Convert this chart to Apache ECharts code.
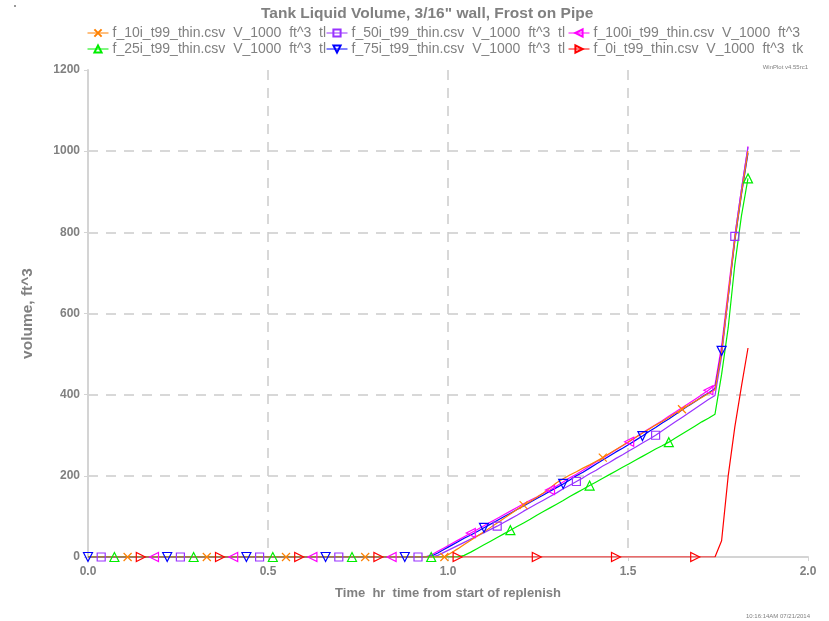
<!DOCTYPE html>
<html><head><meta charset="utf-8">
<script src="https://cdn.jsdelivr.net/npm/echarts@6/dist/echarts.min.js"></script>
<style>html,body{margin:0;padding:0;background:#fff}#c{width:829px;height:621px}</style>
</head><body><div id="c"></div>
<script>
// sampling step of the data files (hr); markers every 12 samples
const STEP = 0.22 / 12;
const xTicks = [0, 0.5, 1.0, 1.5, 2.0];
const yTicks = [0, 200, 400, 600, 800, 1000, 1200];

const names = {
  f10: 'f_10i_t99_thin.csv  V_1000  ft^3  tl',
  f25: 'f_25i_t99_thin.csv  V_1000  ft^3  tl',
  f50: 'f_50i_t99_thin.csv  V_1000  ft^3  tl',
  f75: 'f_75i_t99_thin.csv  V_1000  ft^3  tl',
  f100: 'f_100i_t99_thin.csv  V_1000  ft^3',
  f0: 'f_0i_t99_thin.csv  V_1000  ft^3  tk'
};

const v10 = [
  0,0,0,0,0,0,0,0,0,0, 0,0,0,0,0,0,0,0,0,0, 0,0,0,0,0,0,0,0,0,0,
  0,0,0,0,0,0,0,0,0,0, 0,0,0,0,0,0,0,0,0,0, 0,0,0,0,
  0,10,20,31,41,52,62,73,84,95,106,117,128,137,147,158,170,183,193,202,210,219,227,236,245,
  255,265,275,285,295,305,315,325,334,344,354,364,374,384,393,403,412,505,645,782,895,1000
];
const v25 = [
  0,0,0,0,0,0,0,0,0,0, 0,0,0,0,0,0,0,0,0,0, 0,0,0,0,0,0,0,0,0,0,
  0,0,0,0,0,0,0,0,0,0, 0,0,0,0,0,0,0,0,0,0, 0,0,0,0,0,0,0,
  4,12,21,30,39,48,57,66,75,84,93,103,112,121,130,139,149,158,167,176,185,194,203,212,221,
  230,239,248,257,266,274,283,293,303,313,323,333,342,352,450,565,720,840,933
];
const v50 = [
  0,0,0,0,0,0,0,0,0,0, 0,0,0,0,0,0,0,0,0,0, 0,0,0,0,0,0,0,0,0,0,
  0,0,0,0,0,0,0,0,0,0, 0,0,0,0,0,0,0,0,0,0, 0,0,0,
  4,12,20,28,36,44,52,60,68,76,85,94,103,113,122,131,140,149,158,168,177,186,195,205,214,
  224,233,243,252,262,271,281,290,300,311,322,333,344,355,366,377,388,398,495,640,790,905,1010
];
const v75 = [
  0,0,0,0,0,0,0,0,0,0, 0,0,0,0,0,0,0,0,0,0, 0,0,0,0,0,0,0,0,0,0,
  0,0,0,0,0,0,0,0,0,0, 0,0,0,0,0,0,0,0,0,0, 0,0,
  2,10,19,28,37,46,54,63,72,81,90,99,108,117,126,135,144,153,162,171,180,190,200,209,219,
  229,239,249,259,268,278,288,298,309,319,330,340,351,362,373,383,394,404,415,508,640,778,892,995
];
const v100 = [
  0,0,0,0,0,0,0,0,0,0, 0,0,0,0,0,0,0,0,0,0, 0,0,0,0,0,0,0,0,0,0,
  0,0,0,0,0,0,0,0,0,0, 0,0,0,0,0,0,0,0,0,0, 0,0,
  5,14,23,32,41,50,59,68,77,86,95,104,113,122,131,140,148,157,165,175,185,195,204,214,224,
  234,244,254,264,274,284,295,306,316,326,336,347,357,368,378,389,400,411,424,520,655,790,905,1012
];
const v0 = [
  0,0,0,0,0,0,0,0,0,0, 0,0,0,0,0,0,0,0,0,0, 0,0,0,0,0,0,0,0,0,0,
  0,0,0,0,0,0,0,0,0,0, 0,0,0,0,0,0,0,0,0,0, 0,0,0,0,0,0,0,0,0,0,
  0,0,0,0,0,0,0,0,0,0, 0,0,0,0,0,0,0,0,0,0, 0,0,0,0,0,0,0,0,0,0,
  0,0,0,0,0,0,40,200,320,420,515
];

const GRAY = '#808080';
const XSYM = 'path://M0 0L10 10M10 0L0 10';

function mk(name, vals, color, symbol, rot, off, size) {
  return {
    name: name, type: 'line',
    data: vals.map((v, i) => ({ value: [i * STEP, v], symbol: (i % 12 === off) ? symbol : 'none' })),
    symbol: symbol, symbolRotate: rot, symbolSize: size, showSymbol: true, showAllSymbol: true,
    lineStyle: { color: color, width: 1.2 },
    itemStyle: { color: 'rgba(255,255,255,0)', borderColor: color, borderWidth: 1.2 },
    emphasis: { disabled: true },
    animation: false
  };
}

const series = [
  mk(names.f0, v0, '#ff0000', 'triangle', -90, 8, 9),
  mk(names.f100, v100, '#ff00ff', 'triangle', 90, 10, 9),
  mk(names.f75, v75, '#0000ff', 'triangle', 180, 0, 9),
  mk(names.f50, v50, '#9933ff', 'rect', 0, 2, 8),
  mk(names.f25, v25, '#00ee00', 'triangle', 0, 4, 9),
  mk(names.f10, v10, '#ff8000', XSYM, 0, 6, 8)
];

const legendBase = {
  orient: 'vertical', top: 26, itemWidth: 21, itemHeight: 9, itemGap: 2,
  textStyle: { color: GRAY, fontSize: 14, fontFamily: 'Liberation Sans', padding: [0, 0, 0, -1] },
  lineStyle: { width: 1 },
  selectedMode: false, padding: 0
};

const chart = echarts.init(document.getElementById('c'), null, { renderer: 'canvas' });
chart.setOption({
  animation: false,
  backgroundColor: '#ffffff',
  title: {
    text: 'Tank Liquid Volume, 3/16" wall, Frost on Pipe',
    left: 261, top: 6, padding: 0,
    textStyle: { color: GRAY, fontSize: 15.5, fontWeight: 'bold', fontFamily: 'Liberation Sans' }
  },
  legend: [
    Object.assign({}, legendBase, { left: 87, data: [names.f10, names.f25] }),
    Object.assign({}, legendBase, { left: 326, data: [names.f50, names.f75] }),
    Object.assign({}, legendBase, { left: 568, data: [names.f100, names.f0] })
  ],
  grid: { left: 88, right: 21, top: 70, bottom: 64, containLabel: false },
  xAxis: {
    type: 'value', min: xTicks[0], max: xTicks[xTicks.length - 1], interval: 0.5,
    name: 'Time  hr  time from start of replenish', nameLocation: 'middle', nameGap: 30,
    nameTextStyle: { color: GRAY, fontSize: 13, fontWeight: 'bold', fontFamily: 'Liberation Sans' },
    axisLine: { show: true, lineStyle: { color: '#d4d4d4', width: 2 } },
    axisTick: { show: true, length: 4, lineStyle: { color: '#d4d4d4' } },
    axisLabel: { color: GRAY, fontSize: 12, fontWeight: 'bold', margin: 9, fontFamily: 'Liberation Sans',
      formatter: v => v.toFixed(1) },
    splitLine: { show: true, showMinLine: false, showMaxLine: false,
      lineStyle: { color: '#cccccc', width: 1.5, type: [10, 8] } }
  },
  yAxis: {
    type: 'value', min: yTicks[0], max: yTicks[yTicks.length - 1], interval: 200,
    name: 'volume, ft^3', nameLocation: 'middle', nameGap: 52,
    nameTextStyle: { color: GRAY, fontSize: 15.5, fontWeight: 'bold', fontFamily: 'Liberation Sans' },
    axisLine: { show: true, lineStyle: { color: '#d4d4d4', width: 2 } },
    axisTick: { show: true, length: 4, lineStyle: { color: '#d4d4d4' } },
    axisLabel: { color: GRAY, fontSize: 12, fontWeight: 'bold', margin: 8, fontFamily: 'Liberation Sans',
      formatter: v => String(v) },
    splitLine: { show: true, showMinLine: false, showMaxLine: false,
      lineStyle: { color: '#cccccc', width: 1.5, type: [10, 8] } }
  },
  graphic: [
    { type: 'text', right: 21, top: 64, style: { text: 'WinPlot v4.55rc1', fill: '#808080', fontSize: 6, fontFamily: 'Liberation Sans' } },
    { type: 'text', right: 19, top: 613, style: { text: '10:16:14AM 07/21/2014', fill: '#808080', fontSize: 6, fontFamily: 'Liberation Sans' } },
    { type: 'rect', left: 14, top: 5, shape: { width: 2, height: 2 }, style: { fill: '#999' } }
  ],
  series: series
});
</script>
</body></html>
